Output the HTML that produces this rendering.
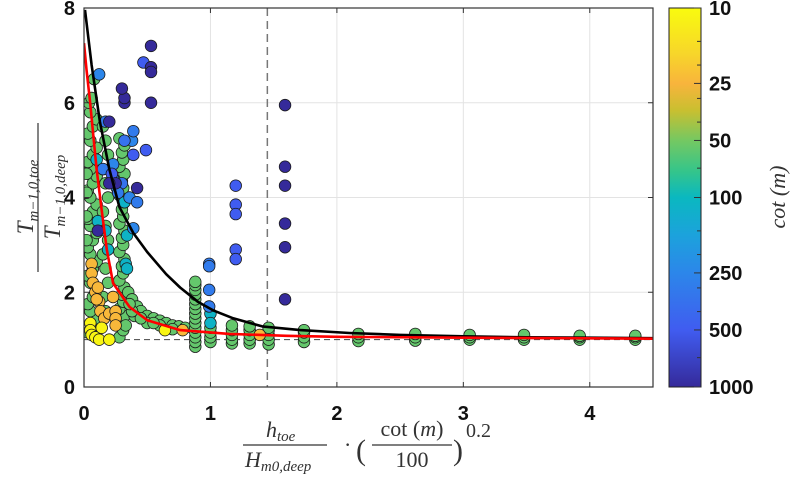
<!DOCTYPE html>
<html><head><meta charset="utf-8"><style>
html,body{margin:0;padding:0;background:#fff;}
svg{display:block;}
.tk{font-family:"Liberation Sans",sans-serif;font-weight:bold;font-size:20px;fill:#111;}
.mt{font-family:"Liberation Serif",serif;fill:#333;}
</style></head><body>
<svg id="chart" width="794" height="482" viewBox="0 0 794 482" xmlns="http://www.w3.org/2000/svg">
<defs>
<linearGradient id="cbg" x1="0" y1="0" x2="0" y2="1">
<stop offset="0" stop-color="#f9fb0e"/><stop offset="0.12" stop-color="#f7d62a"/><stop offset="0.2" stop-color="#f8b43c"/>
<stop offset="0.27" stop-color="#c9bf30"/><stop offset="0.35" stop-color="#74c862"/><stop offset="0.43" stop-color="#35c58a"/>
<stop offset="0.5" stop-color="#0ab8c0"/><stop offset="0.6" stop-color="#1ca2dc"/><stop offset="0.7" stop-color="#2c86ea"/>
<stop offset="0.85" stop-color="#405cf0"/><stop offset="1" stop-color="#352a9a"/>
</linearGradient>
<clipPath id="pc"><rect x="84" y="8" width="569" height="379"/></clipPath>
</defs>
<rect x="84" y="8" width="569" height="379" fill="#fff"/>
<g id="grid"></g>
<g id="refs"></g>
<g id="pts" clip-path="url(#pc)"></g>
<g id="curves" clip-path="url(#pc)"></g>
<rect x="84" y="8" width="569" height="379" fill="none" stroke="#333" stroke-width="1.2"/>
<g id="ticks"></g>
<rect x="669" y="8" width="32" height="379" fill="url(#cbg)" stroke="#222" stroke-width="1"/>
<g id="cbt"></g>
<text class="mt" x="0" y="0" transform="translate(785,197) rotate(-90)" text-anchor="middle" font-size="22" font-style="italic" fill="#555">cot (m)</text>
<g>
<text class="mt" transform="translate(33,197) rotate(-90)" text-anchor="middle" font-size="23" font-style="italic">T<tspan font-size="15" dy="5">m−1,0,toe</tspan></text>
<line x1="38" y1="123" x2="38" y2="272" stroke="#333" stroke-width="1.2"/>
<text class="mt" transform="translate(60,197) rotate(-90)" text-anchor="middle" font-size="23" font-style="italic">T<tspan font-size="15" dy="5">m−1,0,deep</tspan></text>
</g>
<g>
<text class="mt" x="266" y="437" font-size="22" font-style="italic">h<tspan font-size="15" dy="4">toe</tspan></text>
<line x1="243" y1="445" x2="327" y2="445" stroke="#333" stroke-width="1.2"/>
<text class="mt" x="245" y="467" font-size="22" font-style="italic">H<tspan font-size="15" dy="4">m0,deep</tspan></text>
<text class="mt" x="344" y="452" font-size="22">·</text>
<text class="mt" x="356" y="460" font-size="30">(</text>
<text class="mt" x="412" y="436" font-size="22" text-anchor="middle">cot (<tspan font-style="italic">m</tspan>)</text>
<line x1="372" y1="445" x2="452" y2="445" stroke="#333" stroke-width="1.2"/>
<text class="mt" x="412" y="467" font-size="22" text-anchor="middle">100</text>
<text class="mt" x="453" y="460" font-size="30">)</text>
<text class="mt" x="466" y="437" font-size="20">0.2</text>
</g>
</svg>
<script>
const xTicks=[0,1,2,3,4];
const yTicks=[0,2,4,6,8];
const cbTicks=[10,25,50,100,250,500,1000];
const refY=[1];
const refX=[1.45];
const blackX=[0.008,0.06,0.126,0.2,0.28,0.39,0.5,0.65,0.76,0.9,1.02,1.18,1.41,1.71,2.1,2.5,3.0,3.5,4.0,4.5];
const blackY=[7.96,6.8,5.6,4.6,3.8,3.25,2.85,2.38,2.1,1.8,1.62,1.45,1.28,1.2,1.14,1.1,1.07,1.05,1.04,1.03];
const redX=[0.0,0.02,0.047,0.1,0.14,0.18,0.23,0.36,0.5,0.76,1.15,1.6,2.0,3.0,4.5];
const redY=[7.26,6.7,6.05,4.6,3.73,2.9,2.19,1.69,1.41,1.2,1.12,1.08,1.06,1.04,1.02];
const pointX=[
0.03,0.07,0.1,0.05,0.03,0.07,0.1,0.05,0.03,0.07,0.1,0.05,0.03,0.07,0.1,0.05,0.03,0.07,0.1,0.05,0.03,0.07,0.1,0.05,0.03,0.07,0.1,0.05,0.03,0.07,0.1,0.05,0.04,0.06,0.08,0.02,0.02,0.02,0.02,
0.28,0.31,0.3,0.32,0.28,0.31,0.3,0.32,0.28,0.31,0.3,0.32,0.28,0.31,0.3,0.32,0.28,0.31,0.3,0.32,0.28,0.31,0.3,0.32,0.28,0.31,0.3,0.32,0.28,
0.17,0.15,0.19,0.17,0.15,0.19,0.17,0.15,0.19,0.17,0.15,0.19,0.17,0.15,
0.35,0.38,0.42,0.45,0.5,0.55,0.6,0.65,0.7,0.75,0.8,0.5,0.6,0.7,0.4,0.45,0.38,0.33,0.36,0.55,
0.88,0.88,0.88,0.88,0.88,0.88,0.88,0.88,0.88,0.88,0.88,0.88,0.88,0.88,0.88,
1.0,1.0,1.0,1.0,1.17,1.17,1.17,1.17,1.17,1.31,1.31,1.31,1.31,1.31,1.46,1.46,1.46,1.46,1.46,1.74,1.74,1.74,1.74,
2.17,2.17,2.17,2.62,2.62,2.62,3.05,3.05,3.05,3.48,3.48,3.48,3.92,3.92,3.92,4.36,4.36,4.36,
0.17,0.19,0.1,0.11,0.32,0.34,0.33,0.34,1.0,1.0,
0.06,0.06,0.07,0.09,0.12,0.13,0.16,0.2,0.25,0.25,0.25,0.23,0.1,0.11,0.78,1.39,
0.05,0.05,0.06,0.09,0.12,0.2,0.14,0.64,
0.36,0.42,0.26,0.3,0.23,0.17,0.38,0.39,0.32,0.23,0.15,0.12,0.27,0.22,0.39,0.99,0.99,0.99,0.99,
0.47,0.53,0.53,0.32,0.32,0.53,0.53,0.2,0.49,0.39,0.25,0.3,0.2,0.11,0.42,1.2,1.2,1.2,1.2,1.2,1.59,1.59,1.59,1.59,1.59,1.59
];
const pointY=[
1.15,1.3,1.45,1.6,1.75,1.9,2.05,2.2,2.35,2.5,2.65,2.8,2.95,3.1,3.25,3.4,3.55,3.7,3.85,4.0,4.15,4.3,4.45,4.6,4.75,4.9,5.05,5.2,5.35,5.5,5.65,5.8,6.0,6.1,6.5,3.1,3.6,4.1,4.5,
1.05,1.2,1.35,1.5,1.65,1.8,1.95,2.1,2.25,2.4,2.55,2.7,2.85,3.0,3.15,3.3,3.45,3.6,3.75,3.9,4.05,4.2,4.35,4.5,4.65,4.8,4.95,5.1,5.25,
1.6,1.9,2.2,2.5,2.8,3.1,3.4,3.7,4.0,4.3,4.6,4.9,5.2,5.5,
2.0,1.85,1.7,1.6,1.5,1.45,1.4,1.35,1.3,1.28,1.25,1.35,1.3,1.22,1.5,1.45,1.6,1.3,1.75,1.35,
0.85,0.95,1.05,1.15,1.25,1.35,1.45,1.55,1.65,1.75,1.85,1.95,2.05,2.15,2.22,
0.95,1.05,1.15,1.25,0.92,1.0,1.1,1.2,1.3,0.92,1.0,1.1,1.2,1.28,0.9,1.0,1.1,1.2,1.25,0.95,1.05,1.15,1.2,
0.97,1.05,1.12,0.98,1.05,1.12,1.0,1.05,1.1,1.0,1.05,1.1,1.0,1.05,1.08,1.0,1.05,1.08,
3.3,2.9,4.8,3.5,3.9,3.2,2.6,2.5,1.55,1.35,
2.6,2.4,2.2,2.0,1.8,1.6,1.45,1.55,1.6,1.45,1.3,1.9,1.85,2.1,1.2,1.1,
1.35,1.2,1.1,1.05,1.0,1.0,1.25,1.2,
4.0,3.9,4.2,4.3,4.4,5.6,5.2,5.4,5.2,4.7,4.6,6.6,4.1,4.5,3.35,2.6,2.55,2.05,1.7,
6.85,6.75,7.2,6.0,6.1,6.65,6.0,5.6,5.0,4.9,4.3,6.3,4.3,3.3,4.2,4.25,3.85,3.65,2.9,2.7,5.95,4.65,4.25,3.45,2.95,1.85
];
const pointCot=[
55,55,55,55,55,55,55,55,55,55,55,55,55,55,55,55,55,55,55,55,55,55,55,55,55,55,55,55,55,55,55,55,55,55,55,55,55,55,55,
55,55,55,55,55,55,55,55,55,55,55,55,55,55,55,55,55,55,55,55,55,55,55,55,55,55,55,55,55,
55,55,55,55,55,55,55,55,55,55,55,55,55,55,
55,55,55,55,55,55,55,55,55,55,55,55,55,55,55,55,55,55,55,55,
55,55,55,55,55,55,55,55,55,55,55,55,55,55,55,
55,55,55,55,55,55,55,55,55,55,55,55,55,55,55,55,55,55,55,55,55,55,55,
55,55,55,55,55,55,55,55,55,55,55,55,55,55,55,55,55,55,
110,110,110,110,110,110,110,110,110,110,
24,24,24,24,24,24,24,24,24,24,24,24,24,24,24,24,
11,11,11,11,11,11,11,11,
250,300,250,350,250,300,250,300,350,250,300,250,300,500,250,300,300,300,300,
500,1000,1000,1000,1000,1000,1000,1000,500,500,1000,1000,1000,1000,1000,500,500,500,500,500,1000,1000,1000,1000,1000,1000
];
const NS="http://www.w3.org/2000/svg";
const L=84,R=653,T=8,B=387;
const sx=v=>L+v/4.5*(R-L);
const sy=v=>B-v/8*(B-T);
const sc=c=>T+(Math.log10(c)-1)/2*(B-T);
const stops=[[0,[249,251,14]],[0.12,[247,214,42]],[0.2,[248,180,60]],[0.27,[201,191,48]],[0.35,[116,200,98]],[0.43,[53,197,138]],[0.5,[10,184,192]],[0.6,[28,162,220]],[0.7,[44,134,234]],[0.85,[64,92,240]],[1,[53,42,154]]];
function cmap(c){let t=Math.max(0,Math.min(1,(Math.log10(c)-1)/2));for(let i=1;i<stops.length;i++){if(t<=stops[i][0]){const a=stops[i-1],b=stops[i],f=(t-a[0])/(b[0]-a[0]);const r=a[1].map((v,k)=>Math.round(v+(b[1][k]-v)*f));return `rgb(${r.join(',')})`;}}return 'rgb(53,42,154)';}
function mk(tag,attrs,parent){const e=document.createElementNS(NS,tag);for(const k in attrs)e.setAttribute(k,attrs[k]);parent.appendChild(e);return e;}
const grid=document.getElementById('grid'),ticks=document.getElementById('ticks');
xTicks.forEach(v=>{
 const g=mk('line',{x1:sx(v),x2:sx(v),y1:T,y2:B,stroke:'#e3e3e3','stroke-width':1},grid);
 
 
 mk('line',{x1:sx(v),x2:sx(v),y1:B,y2:B-5,stroke:'#333'},ticks);
 mk('line',{x1:sx(v),x2:sx(v),y1:T,y2:T+5,stroke:'#333'},ticks);
 const t=mk('text',{x:sx(v),y:420,'text-anchor':'middle',class:'tk'},ticks);t.textContent=v;
 
 
});
yTicks.forEach(v=>{
 const g=mk('line',{x1:L,x2:R,y1:sy(v),y2:sy(v),stroke:'#e3e3e3','stroke-width':1},grid);
 
 
 mk('line',{x1:L,x2:L+5,y1:sy(v),y2:sy(v),stroke:'#333'},ticks);
 mk('line',{x1:R,x2:R-5,y1:sy(v),y2:sy(v),stroke:'#333'},ticks);
 const t=mk('text',{x:75,y:sy(v)+7,'text-anchor':'end',class:'tk'},ticks);t.textContent=v;
 
 
});
const refs=document.getElementById('refs');
refY.forEach(v=>{const l=mk('line',{x1:L,x2:R,y1:sy(v),y2:sy(v),stroke:'#444','stroke-width':1,'stroke-dasharray':'6,4'},refs);
 
 });
refX.forEach(v=>{const l=mk('line',{x1:sx(v),x2:sx(v),y1:T,y2:B,stroke:'#777','stroke-width':1.5,'stroke-dasharray':'8,5'},refs);
 
 });
const pts=document.getElementById('pts');
for(let i=0;i<pointX.length;i++){
 const c=mk('circle',{cx:sx(pointX[i]),cy:sy(pointY[i]),r:5.8,fill:cmap(pointCot[i]),stroke:'#1a1a1a','stroke-width':0.8},pts);
 
 
}
function curve(xs,ys,col,name){
 let d='';
 for(let i=0;i<xs.length;i++)d+=(i?'L':'M')+sx(xs[i]).toFixed(1)+','+sy(ys[i]).toFixed(1);
 const p=mk('path',{d:d,fill:'none',stroke:col,'stroke-width':2.6,'stroke-linejoin':'round'},document.getElementById('curves'));
 
 
}
curve(blackX,blackY,'#000','black-fit-curve');
curve(redX,redY,'#f00','red-fit-curve');
const cbt=document.getElementById('cbt');
[15,20,30,40,70,150,200,300,400,700].forEach(v=>{mk('line',{x1:701,x2:697,y1:sc(v),y2:sc(v),stroke:'#333'},cbt);});
cbTicks.forEach(v=>{
 mk('line',{x1:701,x2:694,y1:sc(v),y2:sc(v),stroke:'#333'},cbt);
 const t=mk('text',{x:709,y:sc(v)+7,class:'tk'},cbt);t.textContent=v;
 
 
});
</script>
</body></html>
